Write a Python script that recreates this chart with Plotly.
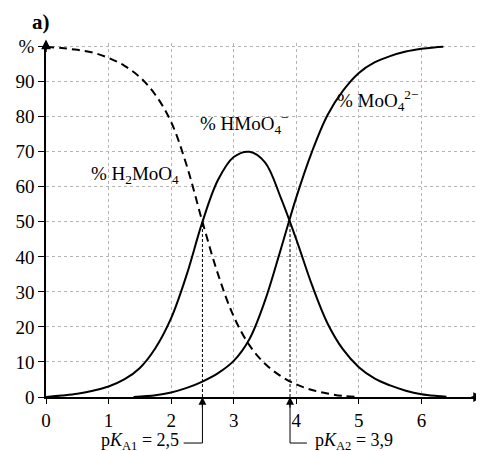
import plotly.graph_objects as go

# ---- data ----
ph_h2 = [0, 0.25, 0.5, 0.75, 1.0, 1.25, 1.5, 1.75, 2.0, 2.25, 2.5, 2.75, 3.0, 3.25, 3.5, 3.75, 4.0, 4.25, 4.5, 4.75, 5.0]
pct_h2 = [100, 99.6, 99.1, 98.3, 96.8, 94.6, 91.3, 86.2, 78.5, 66.0, 50.0, 35.0, 23.0, 14.8, 9.5, 6.0, 3.6, 2.0, 1.0, 0.3, 0.0]

ph_h = [0, 0.25, 0.5, 0.75, 1.0, 1.25, 1.5, 1.75, 2.0, 2.25, 2.5, 2.75, 3.0, 3.25, 3.5, 3.75, 4.0, 4.25, 4.5, 4.75, 5.0, 5.25, 5.5, 5.75, 6.0, 6.25, 6.4]
pct_h = [0, 0.4, 0.9, 1.8, 3.0, 5.0, 8.3, 14.0, 22.5, 35.0, 50.0, 62.0, 68.5, 70.0, 67.0, 57.0, 45.0, 32.0, 21.0, 13.5, 8.5, 5.3, 3.3, 1.8, 0.8, 0.3, 0.1]

ph_m = [1.4, 1.75, 2.0, 2.25, 2.5, 2.75, 3.0, 3.25, 3.5, 3.75, 4.0, 4.25, 4.5, 4.75, 5.0, 5.25, 5.5, 5.75, 6.0, 6.2, 6.35]
pct_m = [0, 0.5, 1.3, 2.6, 4.4, 6.8, 10.3, 16.5, 27.5, 42.0, 57.0, 70.0, 80.5, 87.5, 92.5, 95.5, 97.3, 98.6, 99.4, 99.8, 100]

pka_values = [2.5, 3.9]
pka_labels = ["p<i>K</i><sub>A1</sub> = 2,5", "p<i>K</i><sub>A2</sub> = 3,9"]

x_ticks = [0, 1, 2, 3, 4, 5, 6]
y_ticks = [0, 10, 20, 30, 40, 50, 60, 70, 80, 90, 100]
y_ticktext = ["0", "10", "20", "30", "40", "50", "60", "70", "80", "90", "%"]

FONT = "Liberation Serif, Times New Roman, serif"

fig = go.Figure()
fig.add_trace(go.Scatter(x=ph_h2, y=pct_h2, mode="lines",
                         line=dict(color="black", width=2, dash="8px,5px", shape="spline", smoothing=1)))
fig.add_trace(go.Scatter(x=ph_h, y=pct_h, mode="lines",
                         line=dict(color="black", width=2, shape="spline", smoothing=1)))
fig.add_trace(go.Scatter(x=ph_m, y=pct_m, mode="lines",
                         line=dict(color="black", width=2, shape="spline", smoothing=1)))
for pk in pka_values:
    fig.add_trace(go.Scatter(x=[pk, pk], y=[0, 50], mode="lines",
                             line=dict(color="black", width=1, dash="3px,2px")))

annotations = [
    dict(text="<b>a)</b>", xref="paper", yref="paper", x=-0.012, y=1.06, showarrow=False,
         xanchor="center", yanchor="middle", font=dict(family=FONT, size=21, color="black")),
    dict(text="% H<sub>2</sub>MoO<sub>4</sub>", xref="x", yref="y", x=1.43, y=63.3, showarrow=False,
         font=dict(family=FONT, size=19, color="black")),
    dict(text="% HMoO<sub>4</sub><sup>−</sup>", xref="x", yref="y", x=3.18, y=78.0, showarrow=False,
         font=dict(family=FONT, size=19, color="black")),
    dict(text="% MoO<sub>4</sub><sup>2−</sup>", xref="x", yref="y", x=5.3, y=84.5, showarrow=False,
         font=dict(family=FONT, size=19, color="black")),
    dict(text="pH", xref="x", yref="y", x=6.71, y=-5.0, showarrow=False,
         font=dict(family=FONT, size=19, color="black")),
    # axis arrowheads
    dict(text="", xref="paper", yref="y", x=1.0, y=0, ax=-14, ay=0, showarrow=True,
         arrowhead=2, arrowsize=1.3, arrowwidth=1.5, arrowcolor="black"),
    dict(text="", xref="x", yref="paper", x=0, y=1.01, ax=0, ay=14, showarrow=True,
         arrowhead=2, arrowsize=1.3, arrowwidth=1.5, arrowcolor="black"),
]
shapes = []
# pKa markers
offsets = [-0.3, 0.27]
for pk, lab, off in zip(pka_values, pka_labels, offsets):
    annotations.append(dict(text="", xref="x", yref="y", x=pk, y=0, ax=0, ay=12, showarrow=True,
                            arrowhead=2, arrowsize=1.3, arrowwidth=1.2, arrowcolor="black"))
    shapes.append(dict(type="path", xref="x", yref="paper",
                       path=f"M {pk},0 L {pk},-0.13 L {pk + off},-0.13",
                       line=dict(color="black", width=1)))
    annotations.append(dict(text=lab, xref="x", yref="paper", x=pk + off + (-0.04 if off < 0 else 0.1),
                            y=-0.126, showarrow=False,
                            xanchor="right" if off < 0 else "left", yanchor="middle",
                            font=dict(family=FONT, size=18, color="black")))

# the page body has an 8px margin, so the figure is sized to fit the 484x451 window
fig.update_layout(
    width=476, height=443,
    margin=dict(l=38, r=0, t=35, b=54),
    paper_bgcolor="white", plot_bgcolor="white",
    showlegend=False,
    annotations=annotations, shapes=shapes,
    xaxis=dict(range=[0, 7.0], tickvals=x_ticks, showgrid=True, gridcolor="#b5b5b5", gridwidth=1,
               griddash="dot", zeroline=False, showline=True, linecolor="black", linewidth=1.5,
               ticks="outside", ticklen=5, tickcolor="black", tickwidth=1,
               tickfont=dict(family=FONT, size=19, color="black")),
    yaxis=dict(range=[0, 101.05], tickvals=y_ticks, ticktext=y_ticktext, showgrid=True,
               gridcolor="#b5b5b5", gridwidth=1, griddash="dot", zeroline=False,
               showline=True, linecolor="black", linewidth=1.5,
               ticks="outside", ticklen=6, tickcolor="black", tickwidth=1,
               tickfont=dict(family=FONT, size=19, color="black")),
)

fig.write_html("out.html")
